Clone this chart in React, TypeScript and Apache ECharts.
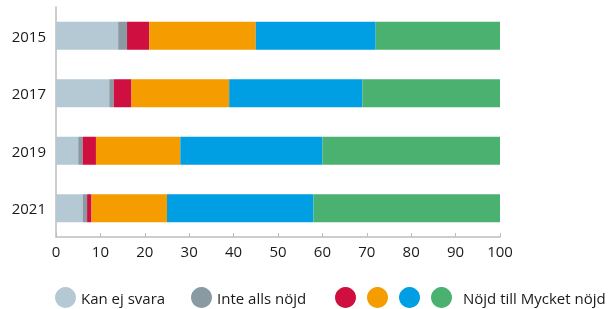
import React, { useEffect, useRef } from "react";
import * as echarts from "echarts";

const categories = ["2015", "2017", "2019", "2021"];
const seriesNames = ["Kan ej svara", "Inte alls nöjd", "Lite nöjd", "Ganska nöjd", "Nöjd", "Nöjd till Mycket nöjd"];
const legendLabels = ["Kan ej svara", "Inte alls nöjd", "", "", "", "Nöjd till Mycket nöjd"];
const kanEjSvara = [14, 12, 5, 6];
const inteAllsNojd = [2, 1, 1, 1];
const liteNojd = [5, 4, 3, 1];
const ganskaNojd = [24, 22, 19, 17];
const nojd = [27, 30, 32, 33];
const mycketNojd = [28, 31, 40, 42];
const xTicks = [0, 10, 20, 30, 40, 50, 60, 70, 80, 90, 100];

const colors = ["#b5c9d4", "#8a9aa2", "#cf0f3f", "#f59c00", "#009fe3", "#4bb170"];
const legendLeft = [55, 191, 335, 367, 399, 431];

export default function App() {
  const ref = useRef<HTMLDivElement>(null);
  useEffect(() => {
    if (!ref.current) return;
    const chart = echarts.init(ref.current, undefined, { renderer: "svg" });
    const values = [kanEjSvara, inteAllsNojd, liteNojd, ganskaNojd, nojd, mycketNojd];
    const font = "'Open Sans', 'Noto Sans', sans-serif";
    chart.setOption({
      animation: false,
      grid: { left: 56, right: 116, top: 7, bottom: 72, containLabel: false },
      xAxis: {
        type: "value",
        min: xTicks[0],
        max: xTicks[xTicks.length - 1],
        interval: 10,
        axisLine: { show: true, lineStyle: { color: "#bdbdbd", width: 1.5 } },
        axisTick: { show: true, inside: true, length: 4, lineStyle: { color: "#bdbdbd", width: 1 } },
        axisLabel: { color: "#1a1a1a", fontSize: 15, fontFamily: font, margin: 6 },
        splitLine: { show: false },
      },
      yAxis: {
        type: "category",
        data: categories,
        inverse: true,
        axisLine: { show: true, lineStyle: { color: "#bdbdbd", width: 1.5 } },
        axisTick: { show: false },
        axisLabel: { color: "#1a1a1a", fontSize: 15, fontFamily: font, margin: 10 },
      },
      legend: seriesNames.map((n, i) => ({
        data: [n],
        left: legendLeft[i],
        top: 287,
        icon: "circle",
        itemWidth: 21,
        itemHeight: 21,
        itemGap: 0,
        padding: 0,
        selectedMode: false,
        formatter: () => legendLabels[i],
        textStyle: { color: "#1a1a1a", fontSize: 15, fontFamily: font, padding: [0, 0, 0, i === 5 ? 6 : 0] },
      })),
      series: seriesNames.map((n, i) => ({
        name: n,
        type: "bar",
        stack: "total",
        data: values[i],
        barWidth: 28,
        itemStyle: { color: colors[i] },
      })),
    });
    return () => chart.dispose();
  }, []);
  return <div ref={ref} style={{ position: "fixed", left: 0, top: 0, width: 616, height: 309 }} />;
}
